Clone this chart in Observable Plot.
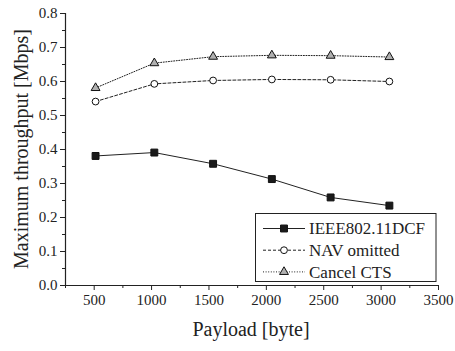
<!DOCTYPE html>
<html><head><meta charset="utf-8">
<script src="https://cdn.jsdelivr.net/npm/d3@7"></script>
<script src="https://cdn.jsdelivr.net/npm/@observablehq/plot@0.6"></script>
<style>
body{margin:0;background:#fff;}
svg, svg text{font-family:'Liberation Serif','DejaVu Serif',Tinos,serif !important;}
</style></head>
<body><div id="chart"></div>
<script>
const payload = [512, 1024, 1536, 2048, 2560, 3072];
const dcf = [0.381, 0.391, 0.358, 0.313, 0.259, 0.235];
const nav = [0.541, 0.593, 0.603, 0.606, 0.605, 0.600];
const cts = [0.581, 0.654, 0.673, 0.677, 0.676, 0.672];
const seriesNames = ["IEEE802.11DCF", "NAV omitted", "Cancel CTS"];
const xTicks = [500, 1000, 1500, 2000, 2500, 3000, 3500];
const xMinor = [250, 750, 1250, 1750, 2250, 2750, 3250];
const yTicks = [0, 0.1, 0.2, 0.3, 0.4, 0.5, 0.6, 0.7, 0.8];
const yMinor = [0.05, 0.15, 0.25, 0.35, 0.45, 0.55, 0.65, 0.75];

const FONT = "'Liberation Serif','DejaVu Serif',Tinos,serif";
const styles = [
  {dash: null, symbol: "square", fill: "#1a1a1a", r: 3.9},
  {dash: "3,2", symbol: "circle", fill: "white", r: 3.4},
  {dash: "1,1.6", symbol: "triangle", fill: "#b0b0b0", r: 3.3}
];
const vals = [dcf, nav, cts];
const data = [];
seriesNames.forEach((s, i) => payload.forEach((p, j) => data.push({series: s, idx: i, x: p, y: vals[i][j]})));

const marks = [];
seriesNames.forEach((s, i) => {
  const d = data.filter(e => e.idx === i);
  marks.push(Plot.line(d, {x: "x", y: "y", stroke: "#222", strokeWidth: 1, strokeDasharray: styles[i].dash}));
});
seriesNames.forEach((s, i) => {
  const d = data.filter(e => e.idx === i);
  marks.push(Plot.dot(d, {x: "x", y: "y", symbol: () => styles[i].symbol, fill: styles[i].fill, stroke: "#111", strokeWidth: 1, r: styles[i].r}));
});

const plot = Plot.plot({
  width: 455, height: 351,
  marginLeft: 65, marginRight: 17, marginTop: 13, marginBottom: 66,
  style: {fontFamily: FONT, background: "white"},
  x: {domain: [250, 3500]},
  y: {domain: [0, 0.8]},
  marks: [
    Plot.axisX({ticks: xTicks, tickSize: 5, tickFormat: d => String(d), fontSize: 15, tickPadding: 4, label: null, stroke: "#222", fill: "#222"}),
    Plot.axisX({ticks: xMinor, tickSize: 3, tickFormat: () => "", label: null, stroke: "#222"}),
    Plot.axisY({ticks: yTicks, tickSize: 5, tickFormat: d => d.toFixed(1), fontSize: 15, tickPadding: 3, label: null, stroke: "#222", fill: "#222"}),
    Plot.axisY({ticks: yMinor, tickSize: 3, tickFormat: () => "", label: null, stroke: "#222"}),
    Plot.ruleX([250], {stroke: "#222", strokeWidth: 1.2}),
    Plot.ruleY([0], {stroke: "#222", strokeWidth: 1.2}),
    ...marks
  ]
});
document.getElementById("chart").appendChild(plot);

const svg = d3.select(plot);
// axis titles
svg.append("text").attr("x", 251).attr("y", 336).attr("text-anchor", "middle").style("font-family", FONT)
  .attr("font-size", 20).attr("fill", "#222").text("Payload [byte]");
svg.append("text").attr("transform", "translate(28,149) rotate(-90)").attr("text-anchor", "middle").style("font-family", FONT)
  .attr("font-size", 20).attr("fill", "#222").text("Maximum throughput [Mbps]");

// legend
const lg = svg.append("g");
lg.append("rect").attr("x", 255.5).attr("y", 213.5).attr("width", 180.5).attr("height", 68)
  .attr("fill", "white").attr("stroke", "#222").attr("stroke-width", 1);
const legSyms = [d3.symbolSquare, d3.symbolCircle, d3.symbolTriangle];
seriesNames.forEach((s, i) => {
  const y = 228.5 + i * 21.7;
  lg.append("line").attr("x1", 263).attr("x2", 305).attr("y1", y).attr("y2", y)
    .attr("stroke", "#222").attr("stroke-width", 1).attr("stroke-dasharray", styles[i].dash);
  lg.append("path").attr("transform", `translate(284,${y})`)
    .attr("d", d3.symbol(legSyms[i], Math.PI * styles[i].r * styles[i].r)())
    .attr("fill", styles[i].fill).attr("stroke", "#111").attr("stroke-width", 1);
  lg.append("text").attr("x", 309).attr("y", y).attr("dy", "0.35em").attr("font-size", 17)
    .attr("text-anchor", "start").style("font-family", FONT)
    .attr("fill", "#222").text(s);
});
</script></body></html>
